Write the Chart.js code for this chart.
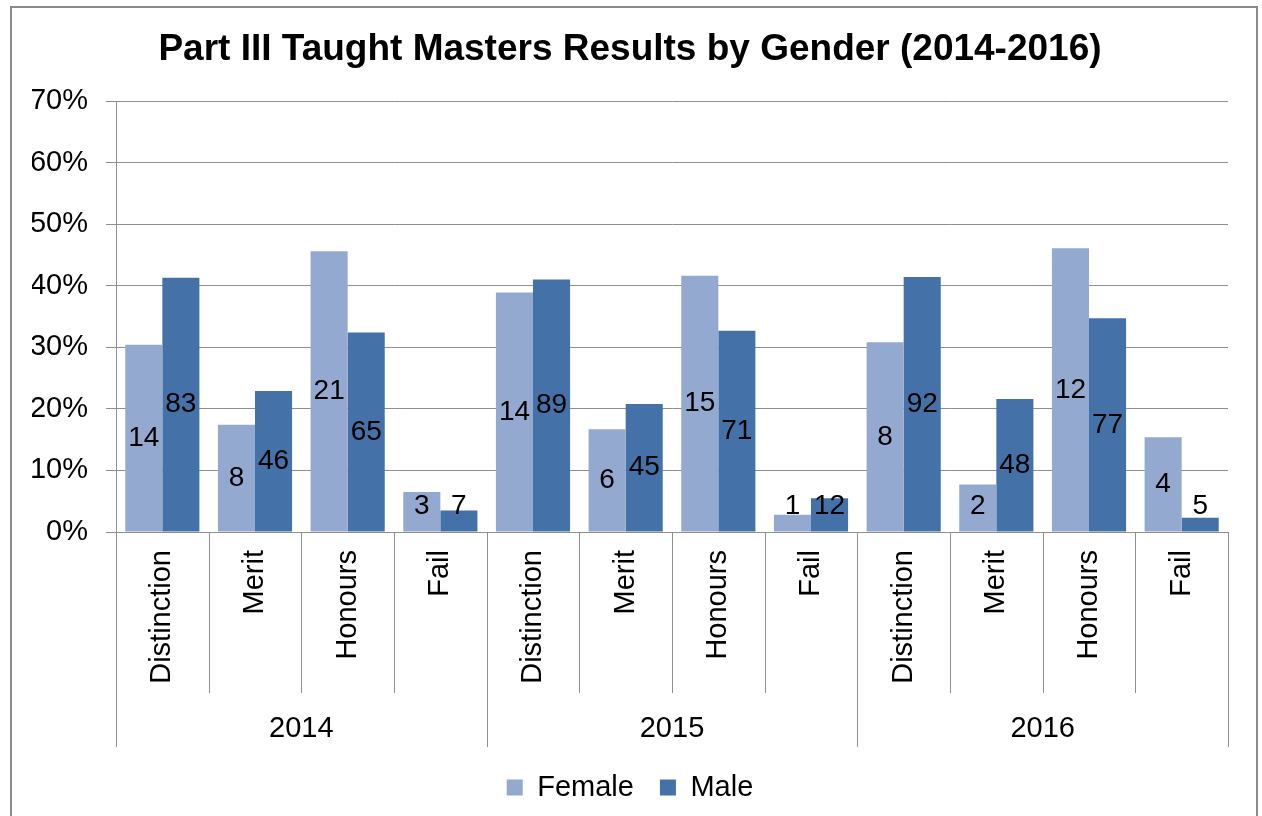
<!DOCTYPE html>
<html>
<head>
<meta charset="utf-8">
<script src="https://cdn.jsdelivr.net/npm/chart.js@4.4.1/dist/chart.umd.min.js"></script>
<style>
  body { margin: 0; background: #fff; }
  #wrap { width: 1262px; height: 816px; }
</style>
</head>
<body>
<div id="wrap"><canvas id="myChart" width="1262" height="816"></canvas></div>
<script>
// Dados
var years = ['2014', '2015', '2016'];
var grades = ['Distinction', 'Merit', 'Honours', 'Fail'];

// percentagens (eixo)
var femalePct = [30.4, 17.4, 45.6, 6.5, 38.9, 16.7, 41.6, 2.8, 30.8, 7.7, 46.1, 15.4];
var malePct   = [41.3, 22.9, 32.4, 3.5, 41.0, 20.8, 32.7, 5.5, 41.4, 21.6, 34.7, 2.3];

// contagens mostradas dentro das barras
var femaleCount = [14, 8, 21, 3, 14, 6, 15, 1, 8, 2, 12, 4];
var maleCount   = [83, 46, 65, 7, 89, 45, 71, 12, 92, 48, 77, 5];

var yTicks = [0, 10, 20, 30, 40, 50, 60, 70];

var FONT = "'Liberation Sans', Arial, sans-serif";
var GRID = '#8f8f8f';

// rótulos das categorias (um por grupo de barras)
var labels = [];
years.forEach(function (y) {
    grades.forEach(function (g) { labels.push(g); });
});

// moldura e fundo
var framePlugin = {
    id: 'frame',
    beforeDraw: function (chart) {
        var ctx = chart.ctx;
        ctx.save();
        ctx.fillStyle = '#fff';
        ctx.fillRect(0, 0, chart.width, chart.height);
        ctx.strokeStyle = '#8a8a8a';
        ctx.lineWidth = 2;
        ctx.strokeRect(11, 7, 1246, 830);
        ctx.restore();
    }
};

// eixo x em dois níveis (nota / ano)
var multiAxisPlugin = {
    id: 'multiAxis',
    afterDraw: function (chart) {
        var ctx = chart.ctx;
        var xs = chart.scales.x;
        var bottom = chart.chartArea.bottom;
        var n = labels.length;
        var step = (xs.right - xs.left) / n;

        ctx.save();
        ctx.strokeStyle = GRID;
        ctx.lineWidth = 1;
        for (let i = 0; i <= n; i++) {
            let x = Math.round(xs.left + i * step) + 0.5;
            let end = (i % grades.length === 0) ? bottom + 215 : bottom + 161;
            ctx.beginPath();
            ctx.moveTo(x, bottom);
            ctx.lineTo(x, end);
            ctx.stroke();
        }

        ctx.fillStyle = '#000';
        ctx.font = '29px ' + FONT;
        for (let i = 0; i < n; i++) {
            let x = xs.getPixelForValue(i);
            ctx.save();
            ctx.translate(x, bottom + 18);
            ctx.rotate(-Math.PI / 2);
            ctx.textAlign = 'right';
            ctx.textBaseline = 'middle';
            ctx.fillText(labels[i], 0, 0);
            ctx.restore();
        }

        ctx.textAlign = 'center';
        ctx.textBaseline = 'middle';
        years.forEach(function (y, k) {
            let a = xs.getPixelForValue(k * grades.length);
            let b = xs.getPixelForValue(k * grades.length + grades.length - 1);
            ctx.fillText(y, (a + b) / 2, bottom + 197);
        });
        ctx.restore();
    }
};

// contagens no meio das barras
var countPlugin = {
    id: 'counts',
    afterDatasetsDraw: function (chart) {
        var ctx = chart.ctx;
        var bottom = chart.chartArea.bottom;
        ctx.save();
        ctx.fillStyle = '#000';
        ctx.font = '28px ' + FONT;
        ctx.textAlign = 'center';
        ctx.textBaseline = 'middle';
        chart.data.datasets.forEach(function (ds, d) {
            var meta = chart.getDatasetMeta(d);
            meta.data.forEach(function (bar, i) {
                let y = Math.min((bar.y + bar.base) / 2, bottom - 26);
                ctx.fillText(String(ds.counts[i]), bar.x, y);
            });
        });
        ctx.restore();
    }
};

const ctx = document.getElementById('myChart').getContext('2d');
const myChart = new Chart(ctx, {
    type: 'bar',
    data: {
        labels: labels,
        datasets: [{
            label: 'Female',
            data: femalePct,
            counts: femaleCount,
            backgroundColor: '#94a9d0',
            borderWidth: 0,
            categoryPercentage: 0.8,
            barPercentage: 1.0
        }, {
            label: 'Male',
            data: malePct,
            counts: maleCount,
            backgroundColor: '#4472a8',
            borderWidth: 0,
            categoryPercentage: 0.8,
            barPercentage: 1.0
        }]
    },
    options: {
        responsive: false,
        animation: false,
        layout: {
            padding: { top: 12, left: 32, right: 34, bottom: 4 }
        },
        scales: {
            x: {
                grid: { display: false },
                border: { display: false },
                ticks: { display: false },
                afterFit: function (scale) { scale.height = 215; }
            },
            y: {
                min: 0,
                max: 70,
                afterBuildTicks: function (scale) {
                    scale.ticks = yTicks.map(function (v) { return { value: v }; });
                },
                ticks: {
                    color: '#000',
                    padding: 18,
                    font: { family: FONT, size: 29 },
                    callback: function (v) { return v + '%'; }
                },
                grid: { color: GRID, tickLength: 10 },
                border: { color: GRID },
                afterFit: function (scale) { scale.width = 84; }
            }
        },
        plugins: {
            title: {
                display: true,
                text: 'Part III Taught Masters Results by Gender (2014-2016)',
                color: '#000',
                font: { family: FONT, size: 37, weight: 'bold' },
                padding: { top: 16, bottom: 28.6 }
            },
            legend: {
                position: 'bottom',
                labels: {
                    color: '#000',
                    boxWidth: 16,
                    boxHeight: 16,
                    padding: 26,
                    font: { family: FONT, size: 29 }
                }
            },
            tooltip: { enabled: false }
        }
    },
    plugins: [framePlugin, multiAxisPlugin, countPlugin]
});
</script>
</body>
</html>
